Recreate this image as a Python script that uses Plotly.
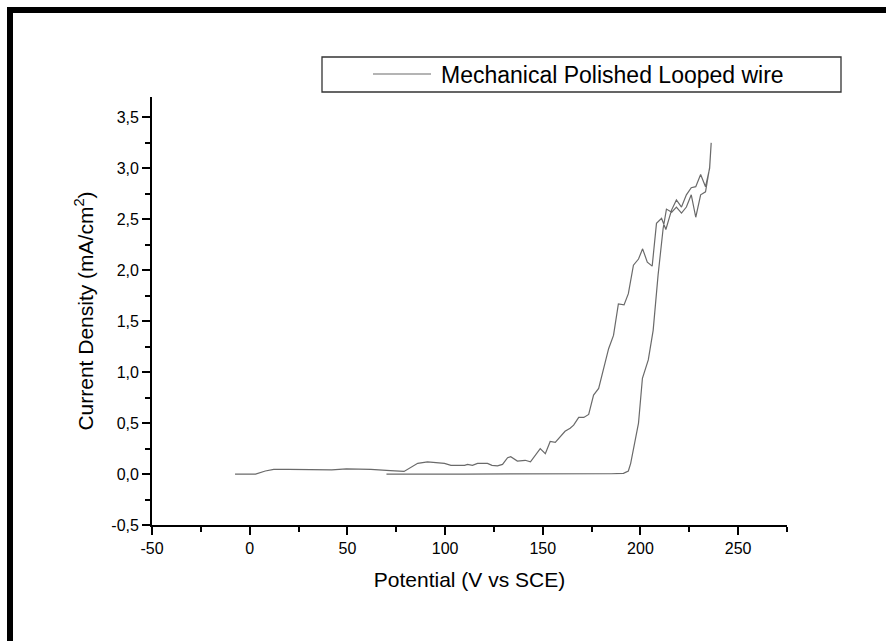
import plotly.graph_objects as go

# ---- data ----
potential_fwd = [-7.5, 3, 8, 12.3, 20, 30, 42, 49.5, 62, 72, 79, 86, 91, 99.7, 103, 110, 111.5, 114,
                 116.6, 121.7, 124, 126.8, 129.4, 132, 133.6, 137, 141, 143.7, 148.7, 151.3, 153.8,
                 156.4, 161.4, 164, 165.8, 168.4, 171, 173.5, 176, 178.6, 183.7, 186.2, 188.7, 191.6,
                 193.8, 196.4, 199, 201.1, 203.5, 206, 208.2, 210.8, 213, 215.9, 218.4, 221, 223.5,
                 226, 228.3, 230.8, 233.3, 235.4, 236.2]
current_fwd = [0.0, 0.0, 0.03, 0.046, 0.045, 0.044, 0.04, 0.05, 0.045, 0.033, 0.026, 0.105, 0.12,
               0.105, 0.085, 0.085, 0.095, 0.085, 0.105, 0.105, 0.085, 0.08, 0.095, 0.16, 0.17, 0.127,
               0.135, 0.12, 0.25, 0.2, 0.32, 0.31, 0.42, 0.45, 0.48, 0.556, 0.556, 0.585, 0.775, 0.84,
               1.23, 1.36, 1.67, 1.66, 1.77, 2.05, 2.11, 2.21, 2.08, 2.04, 2.46, 2.51, 2.40, 2.59, 2.69,
               2.62, 2.74, 2.81, 2.82, 2.94, 2.82, 3.0, 3.25]
potential_rev = [235.4, 233.3, 230.8, 228.3, 226, 223.5, 221, 218.4, 216, 213.3, 211.6, 209, 206.5,
                 204, 201, 199, 196.7, 195, 193.8, 191.3, 185, 165, 140, 110, 90, 70]
current_rev = [3.01, 2.77, 2.74, 2.52, 2.74, 2.62, 2.56, 2.62, 2.57, 2.6, 2.41, 1.95, 1.41, 1.12, 0.94,
               0.5, 0.27, 0.105, 0.03, 0.007, 0.003, 0.004, 0.002, 0.0, 0.0, 0.0]

series_name = "Mechanical Polished Looped wire"
x_tickvals = [-50, 0, 50, 100, 150, 200, 250]
x_ticktext = ["-50", "0", "50", "100", "150", "200", "250"]
x_minor = [-25, 25, 75, 125, 175, 225, 275]
y_tickvals = [-0.5, 0.0, 0.5, 1.0, 1.5, 2.0, 2.5, 3.0, 3.5]
y_ticktext = ["-0,5", "0,0", "0,5", "1,0", "1,5", "2,0", "2,5", "3,0", "3,5"]
y_minor = [-0.25, 0.25, 0.75, 1.25, 1.75, 2.25, 2.75, 3.25]

# ---- layout geometry (pixels) ----
W, H = 886, 641
L, R, T, B = 152, 787, 97, 525


def px(x):
    return (x - L) / (R - L)


def py(y):
    return (B - y) / (B - T)


FONT = "Liberation Sans, Arial, sans-serif"

fig = go.Figure()
fig.add_trace(go.Scatter(
    x=potential_fwd + potential_rev,
    y=current_fwd + current_rev,
    mode="lines",
    name=series_name,
    line=dict(color="#6a6a6a", width=1.2),
    showlegend=False,
))

axis_common = dict(
    showline=True, linecolor="black", linewidth=1.7, mirror=False,
    showgrid=False, zeroline=False,
    ticks="outside", ticklen=8, tickwidth=1.5, tickcolor="black",
    tickfont=dict(family=FONT, size=16, color="black"),
    tickmode="array",
)

fig.update_layout(
    width=W, height=H,
    margin=dict(l=L, r=W - R, t=T, b=H - B),
    paper_bgcolor="white", plot_bgcolor="white",
    xaxis=dict(
        range=[-50, 275], tickvals=x_tickvals, ticktext=x_ticktext,
        minor=dict(tickvals=x_minor, ticks="outside", ticklen=5, tickwidth=1.5, tickcolor="black"),
        title=dict(text="Potential (V vs SCE)", font=dict(family=FONT, size=21, color="black"), standoff=16),
        **axis_common,
    ),
    yaxis=dict(
        range=[-0.5, 3.7], tickvals=y_tickvals, ticktext=y_ticktext,
        minor=dict(tickvals=y_minor, ticks="outside", ticklen=5, tickwidth=1.5, tickcolor="black"),
        title=dict(text="Current Density (mA/cm<sup>2</sup>)", font=dict(family=FONT, size=21, color="black"), standoff=12),
        **axis_common,
    ),
    showlegend=False,
)

# outer black frame (top and left visible)
fig.add_shape(type="line", xref="paper", yref="paper", x0=px(7), x1=px(W + 10), y0=py(10), y1=py(10),
              line=dict(color="black", width=6))
fig.add_shape(type="line", xref="paper", yref="paper", x0=px(10), x1=px(10), y0=py(7), y1=py(H + 10),
              line=dict(color="black", width=6))

# legend box drawn manually
fig.add_shape(type="rect", xref="paper", yref="paper", x0=px(322), x1=px(841), y0=py(92), y1=py(57),
              line=dict(color="#333333", width=1.3), fillcolor="white")
fig.add_shape(type="line", xref="paper", yref="paper", x0=px(373), x1=px(431), y0=py(74), y1=py(74),
              line=dict(color="#6a6a6a", width=1.2))
fig.add_annotation(xref="paper", yref="paper", x=px(439), y=py(74.5), xanchor="left", yanchor="middle",
                   text=series_name, showarrow=False,
                   font=dict(family=FONT, size=23, color="black"))

fig.write_html("out.html")
